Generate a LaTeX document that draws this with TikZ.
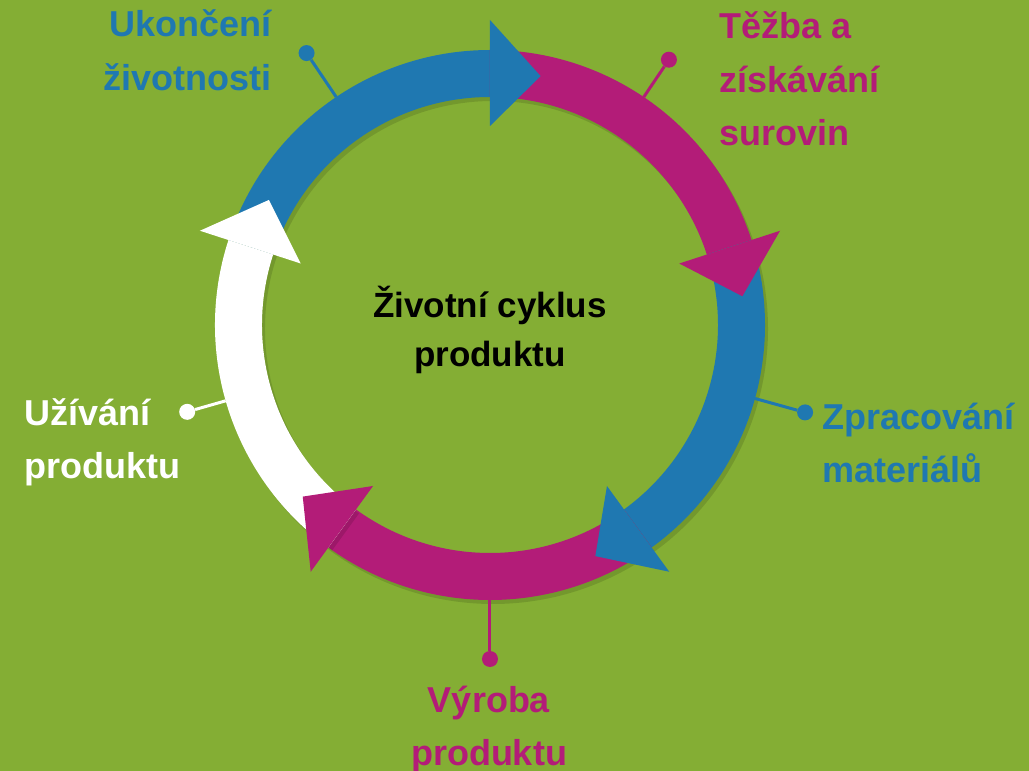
\documentclass[tikz,border=0pt]{standalone}
\usepackage{fontspec}
\setmainfont{Liberation Sans}

\definecolor{leafgreen}{HTML}{84AE34}
\definecolor{cycleblue}{HTML}{1F78B1}
\definecolor{cyclepink}{HTML}{B31C78}

\begin{document}
\begin{tikzpicture}
	[x=1pt, y=1pt,
		containsText/.style	={font=\bfseries\fontsize{36}{53.5}\selectfont
									},
		stageText/.style	={containsText
									, inner sep=0pt
									, align=left
									},
		centerText/.style	={font=\bfseries\fontsize{35}{49}\selectfont
									, inner sep=0pt
									, align=center
									},
		pin/.style			={draw
									, line width=3pt
									},
		dot/.style			={circle
									, fill
									, inner sep=0pt
									, minimum size=16pt
									}
	]
	% background
	\fill[leafgreen] (-490,-446) rectangle (539,325);
	\useasboundingbox (-490,-446) rectangle (539,325);

	% shadow and bands
	\foreach \from/\to/\col in {162/90/cycleblue, 90/18/cyclepink, 18/-54/cycleblue, -54/-126/cyclepink, -126/-198/white}
	{
		\fill[black, opacity=0.12, xshift=3, yshift=-4]
			(\from:275) arc[start angle=\from, end angle=\to, radius=275]
			-- (\to:228) arc[start angle=\to, end angle=\from, radius=228] -- cycle;
		\fill[\col]
			(\from:275) arc[start angle=\from, end angle=\to, radius=275]
			-- (\to:228) arc[start angle=\to, end angle=\from, radius=228] -- cycle;
	}
	% arrow heads
	\foreach \to/\col in {90/cycleblue, 18/cyclepink, -54/cycleblue, -126/cyclepink, -198/white}
		\fill[\col] (\to:199) -- (\to:305) -- ({\to-11.5}:254) -- cycle;

	% pins
	\coordinate (pin end)		at (124:275);
	\coordinate (pin mining)	at (56:275);
	\coordinate (pin processing)	at (-15.5:275);
	\coordinate (pin making)	at (-90:275);
	\coordinate (pin use)		at (196:275);
	\node[dot, cycleblue] (dot end)		at (124:328) {};
	\node[dot, cyclepink] (dot mining)	at (56:320) {};
	\node[dot, cycleblue] (dot processing)	at (-15.5:327) {};
	\node[dot, cyclepink] (dot making)	at (-90:334) {};
	\node[dot, white] (dot use)		at (196:315) {};
	\path[pin, cycleblue]	(pin end)		-- (dot end);
	\path[pin, cyclepink]	(pin mining)	-- (dot mining);
	\path[pin, cycleblue]	(pin processing)	-- (dot processing);
	\path[pin, cyclepink]	(pin making)	-- (dot making);
	\path[pin, white]		(pin use)		-- (dot use);

	% texts (base anchor sits on the last line)
	\node[centerText, anchor=base] (cycle) at (0,-42) {Životní cyklus\\produktu};
	\node[stageText, cycleblue, anchor=base east, align=right] (end) at (-218,234.5) {Ukončení\\životnosti};
	\node[stageText, cyclepink, anchor=base west] (mining) at (229,179) {Těžba a\\získávání\\surovin};
	\node[stageText, cycleblue, anchor=base west] (processing) at (332,-157.5) {Zpracování\\materiálů};
	\node[stageText, cyclepink, anchor=base, align=center] (making) at (-1,-440.5) {Výroba\\produktu};
	\node[stageText, white, anchor=base west] (use) at (-466,-153.5) {Užívání\\produktu};
\end{tikzpicture}
\end{document}
